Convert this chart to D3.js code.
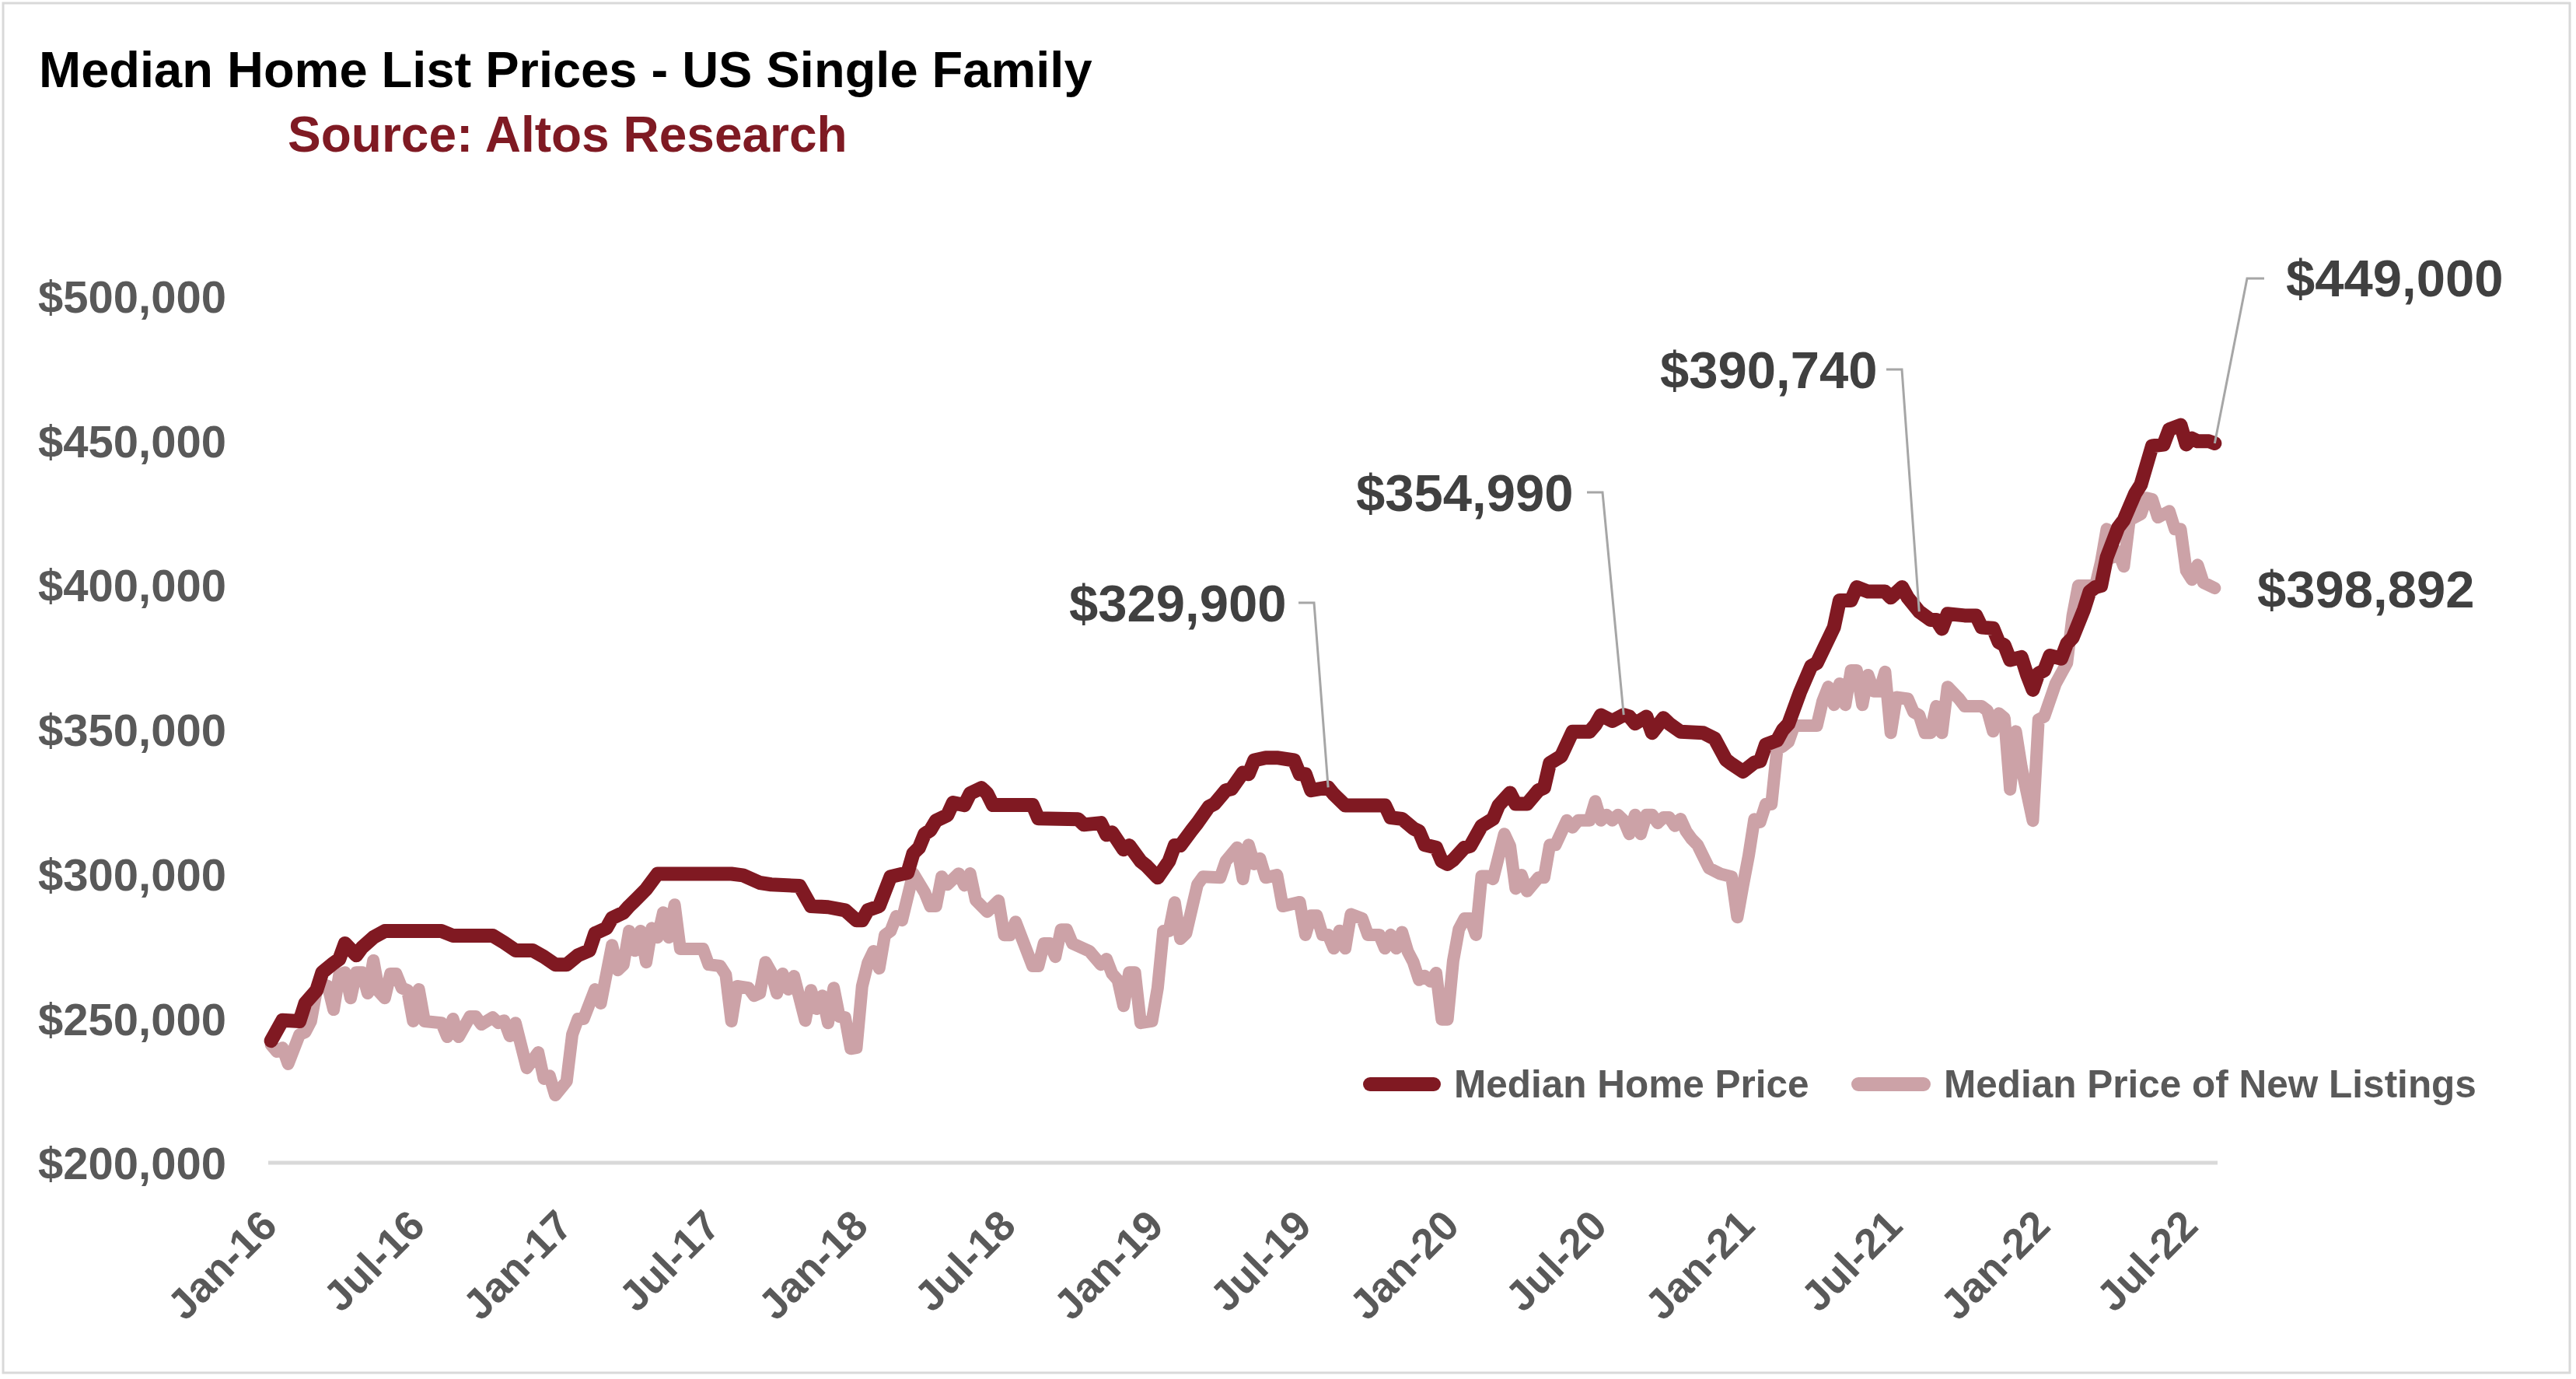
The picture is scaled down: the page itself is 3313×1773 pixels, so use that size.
<!DOCTYPE html>
<html>
<head>
<meta charset="utf-8">
<script src="https://cdn.jsdelivr.net/npm/d3@7"></script>
<style>
  html, body { margin: 0; padding: 0; background: #ffffff; }
  svg { display: block; }
  text { font-family: "Liberation Sans", Arial, Helvetica, sans-serif; font-weight: bold; }
</style>
</head>
<body>
<svg id="chart" width="3313" height="1773"></svg>
<script>
// ---------------- DATA ----------------
const titleText = "Median Home List Prices - US Single Family";
const sourceText = "Source: Altos Research";
const seriesNames = ["Median Home Price", "Median Price of New Listings"];
const firstWeek = "2016-01-15";          // week 0 of the weekly series
const weekCount = 343;                    // weeks 0..342
const tickEveryWeeks = 26;                // label every 26 weeks
const yTicks = [200, 250, 300, 350, 400, 450, 500]; // $ thousands

// Median Home Price (weeks since first week, $ thousands)
const homeWeeks = [0,2,5,6,8,9,11,12,13,15,16,18,20,30,32,39,41,43,46,48,50,52,54,56,57,59,60,62,63,64,66,68,81,83,86,88,93,95,98,101,103,104,105,107,109,112,113,114,115,116,117,119,120,122,123,125,126,127,134,135,142,143,146,147,148,150,151,153,154,156,158,159,160,162,163,165,166,168,169,171,172,173,175,177,180,181,182,183,186,187,189,196,197,199,201,202,203,205,206,207,208,210,211,213,215,216,218,219,221,223,224,225,227,229,232,233,234,236,238,239,240,242,243,245,246,248,252,254,256,257,259,261,262,263,265,266,267,269,271,272,275,276,278,279,281,284,285,287,288,290,292,293,294,295,298,300,301,303,304,305,306,308,309,310,311,312,313,315,316,317,319,320,321,322,323,325,326,328,329,331,333,334,336,337,338,339,341,342];
const homeValues = [242.2,249.3,249,255.2,259.7,265.9,269.1,270.5,275.9,271.8,274.5,278,280.2,280.2,278.6,278.6,276.2,273.5,273.5,271.3,268.6,268.6,271.8,273.5,279.4,281.2,284.7,286.6,288.8,290.7,294.7,300,300,299.5,296.9,296.3,295.8,288.8,288.5,287.4,283.9,283.9,287.4,288.8,299,300.4,307.1,309,313.8,315.1,318.4,320.3,324.6,323.8,327.8,329.7,327.8,323.8,323.8,319.2,318.9,317,317.6,313.5,314.3,308.4,309.8,304.4,302.8,298.7,304.4,309.8,309.8,315.1,317.6,323.2,324.2,328.9,329.4,335,334.5,339.3,340.2,340.2,339.3,334.5,334.5,328.9,329.9,327.5,323.7,323.7,319.5,319,315.7,314.7,310,309.1,304.4,303.4,304.8,309.1,309.6,316.6,319,323.7,328,324.2,324.2,328.9,329.8,338.3,340.7,349.2,349.2,351.5,354.9,352.9,354.99,354.4,352,354.4,348.8,353.9,352,349.2,348.8,346.8,339.5,338,335.4,338.5,339,344.7,346.2,349.8,351.9,362.7,371.9,373,385.3,394.6,394.6,399.2,397.7,397.7,395.6,399.2,395.6,390.74,387.9,387.9,384.8,390,389.4,389.4,385.3,385,380.2,379.1,374,375,368.8,363.7,369.4,370.4,375.5,374.5,379.7,381.7,391.5,397.7,399.2,399.7,409.5,419.8,422.4,431.6,434.7,448.1,448.6,453.8,455.3,448.6,450.7,449.7,449.7,449];

// Median Price of New Listings (weeks since first week, $ thousands)
const newWeeks = [0,1,2,3,5,6,7,8,9,10,11,12,13,14,15,16,17,18,19,20,21,22,23,24,25,26,27,30,31,32,33,35,36,37,39,40,41,42,43,45,47,48,49,50,52,53,54,55,57,58,60,61,62,63,64,65,66,67,68,69,70,71,72,76,77,79,80,81,82,84,85,86,87,88,89,90,91,92,94,95,96,97,98,99,100,101,102,103,104,105,106,107,108,109,110,111,113,115,116,117,118,119,121,122,123,124,126,128,129,130,131,134,135,136,137,138,139,140,141,144,146,147,148,149,150,151,152,153,155,156,157,158,159,160,161,163,164,167,168,170,171,172,173,174,175,177,178,181,182,183,184,185,186,187,188,189,190,192,193,195,196,197,198,199,200,201,202,203,204,205,206,207,208,209,210,211,212,213,214,215,217,218,219,220,221,223,224,225,226,228,229,230,232,233,234,235,236,237,238,239,240,241,242,243,244,245,246,247,248,249,250,251,253,255,257,258,259,260,261,262,263,264,265,266,267,268,272,273,274,275,276,277,278,279,280,281,282,283,284,285,286,288,289,290,291,292,293,294,295,297,298,301,302,303,304,305,306,307,308,310,311,312,314,316,317,318,321,322,323,324,325,326,327,329,330,331,332,334,335,336,337,338,339,340,342];
const newValues = [240.9,238.5,239.8,234.2,244.4,245.2,249,259.7,261.9,261.1,253,265.1,265.9,257,265.9,265.9,258.7,270,259.2,257,265.4,265.4,260.5,259.7,249,260,249,248.4,243.6,249.8,243.6,250.6,250.6,247.9,250.3,248.4,249.2,243.9,248.4,232.8,238.2,229.1,230.1,223.4,228.2,244.4,249.8,249.8,260,255.2,275.3,266.7,268.6,280.2,273.4,280.2,269.4,281.2,278,286.6,278,289.3,274,274,268.6,268.1,265.1,249,261.1,260.5,257.8,258.7,269.4,265.9,258.7,265.4,260,264.6,249.2,259.7,253.3,257.8,248.4,260.5,250.6,250.3,239.5,239.8,261.1,269.1,273.2,267.3,278.8,280.2,285.3,283.9,300.1,293.6,288.8,288.8,299,296.3,300.1,296,300.1,290.9,286.9,290.7,278.8,278.8,283.4,268.1,268.1,275.9,275.9,271.3,280.7,280.7,275.9,273.2,268.6,270.5,265.4,263.2,254.3,265.9,265.9,248.4,249,260.5,280.2,280.2,290.1,277.5,279.4,296.3,299,298.7,304.4,309.1,298.2,310,303.4,305.3,298.7,299.6,288.8,290.2,278.9,285.5,285.5,278.9,278.9,274.2,280.3,274.2,286,284.5,278.9,278.9,274.2,278.9,274.2,279.8,273.2,269.4,263.3,264.7,262.8,265.7,249.6,249.6,269.9,280.8,284.5,284.5,278.9,299.2,299.2,298.2,313.8,309.6,294.9,299.6,294,298.7,298.7,310,310,318.5,316.1,318.5,318.5,325.1,318.5,320.4,318.5,320.4,318.5,313.8,320.4,313.8,320.4,320.4,317.6,319.5,319.5,316.6,319,314.7,312,310,302,300,299,285,296,306.3,318.9,317.9,324.1,324.1,343.1,344.1,345.7,351.3,351.3,359.7,364.7,358.5,365.8,358.5,370.4,370.4,358.5,368.8,363.2,363.2,369.9,348.8,361.1,360.6,356,354.9,348.8,348.8,358,348.8,364.7,360.6,358,358,356.5,349.3,355.5,353.9,329.2,349.3,336.9,318.4,353.4,354.4,365.8,373,389.4,399.7,399.7,408,419.3,409.5,411.6,406.4,422.4,424.5,430.1,429.6,423.4,425.5,419.3,419.3,404.9,401.8,406.9,400.8,398.892];

// Annotated points: which series and which week
const annotSeries = ["home", "home", "home", "home", "new"];
const annotWeeks = [186, 238, 290, 342, 342];

// ---------------- LAYOUT / STYLE ----------------
const W = 3313, H = 1773;
const plot = { left: 345, right: 2852, top: 380.5, bottom: 1495 };
const colors = { home: "#801922", new: "#cca2a7", axis: "#d9d9d9", label: "#595959",
                 annot: "#404040", leader: "#a6a6a6", title: "#000000", source: "#7f1a23" };
// label placement for each annotation: text x, baseline y, leader anchor (x,y), elbow x
const annotLayout = [
  { tx: 1375, ty: 799, lx: 1670, ly: 775, ex: 1690 },
  { tx: 1744, ty: 657, lx: 2041, ly: 633, ex: 2061 },
  { tx: 2135, ty: 499, lx: 2426, ly: 475, ex: 2446 },
  { tx: 2940, ty: 381, lx: 2912, ly: 358, ex: 2890 },
  { tx: 2903, ty: 781, lx: null, ly: null, ex: null }
];

const svg = d3.select("#chart");
const parse = d3.timeParse("%Y-%m-%d");
const start = parse(firstWeek);
const weekDate = w => d3.timeHour.offset(start, w * 7 * 24);

// frame
svg.append("rect").attr("x", 0).attr("y", 0).attr("width", W).attr("height", H).attr("fill", "#ffffff");
svg.append("rect").attr("x", 4).attr("y", 4).attr("width", 3301).attr("height", 1761)
  .attr("fill", "#ffffff").attr("stroke", colors.axis).attr("stroke-width", 3);

// scales
const x = d3.scaleTime()
  .domain([d3.timeHour.offset(start, -84), d3.timeHour.offset(start, (weekCount - 0.5) * 168)])
  .range([plot.left, plot.right]);
const y = d3.scaleLinear().domain([200, 500]).range([plot.bottom, plot.top]);

// titles
svg.append("text").attr("x", 50).attr("y", 112).attr("font-size", 65).attr("fill", colors.title).text(titleText);
svg.append("text").attr("x", 370).attr("y", 195).attr("font-size", 64).attr("fill", colors.source).text(sourceText);

// y axis labels (no axis line, no gridlines)
const fmtDollar = d3.format("$,");
const yAxis = d3.axisLeft(y).tickValues(yTicks).tickSize(0).tickPadding(0)
  .tickFormat(v => fmtDollar(v * 1000));
const gy = svg.append("g").attr("transform", `translate(${291},0)`).call(yAxis);
gy.select(".domain").remove();
gy.selectAll("text").attr("font-size", 58).attr("fill", colors.label)
  .attr("font-family", "'Liberation Sans', Arial, sans-serif").attr("font-weight", "bold")
  .attr("dy", "0.36em").attr("x", 0);

// x axis line
const tickWeeks = d3.range(0, weekCount, tickEveryWeeks);
const xAxis = d3.axisBottom(x).tickValues(tickWeeks.map(weekDate)).tickSize(0).tickFormat(d3.timeFormat("%b-%y"));
const gx = svg.append("g").attr("transform", `translate(0,${plot.bottom})`).call(xAxis);
gx.select(".domain").attr("stroke", colors.axis).attr("stroke-width", 5)
  .attr("d", `M${plot.left},0H${plot.right}`);
gx.selectAll(".tick text")
  .attr("font-size", 54).attr("fill", colors.label)
  .attr("font-family", "'Liberation Sans', Arial, sans-serif").attr("font-weight", "bold")
  .attr("text-anchor", "end").attr("y", 0).attr("dy", 0)
  .attr("transform", "translate(10,84) rotate(-45)");

// series lines
const homeData = homeWeeks.map((w, i) => ({ d: weekDate(w), v: homeValues[i] }));
const newData = newWeeks.map((w, i) => ({ d: weekDate(w), v: newValues[i] }));
const line = d3.line().x(p => x(p.d)).y(p => y(p.v));
svg.append("path").datum(newData).attr("d", line).attr("fill", "none")
  .attr("stroke", colors.new).attr("stroke-width", 16).attr("stroke-linejoin", "round").attr("stroke-linecap", "round");
svg.append("path").datum(homeData).attr("d", line).attr("fill", "none")
  .attr("stroke", colors.home).attr("stroke-width", 18).attr("stroke-linejoin", "round").attr("stroke-linecap", "round");

// annotations
const seriesLookup = { home: [homeWeeks, homeValues], new: [newWeeks, newValues] };
const fmtAnnot = d3.format(",");
annotWeeks.forEach((w, i) => {
  const [ws, vs] = seriesLookup[annotSeries[i]];
  const v = vs[ws.indexOf(w)];
  const L = annotLayout[i];
  if (L.lx !== null) {
    svg.append("path")
      .attr("d", `M${L.lx},${L.ly}H${L.ex}L${x(weekDate(w))},${y(v)}`)
      .attr("fill", "none").attr("stroke", colors.leader).attr("stroke-width", 3);
  }
  svg.append("text").attr("x", L.tx).attr("y", L.ty).attr("font-size", 67)
    .attr("fill", colors.annot)
    .text("$" + fmtAnnot(Math.round(v * 1000)));
});

// legend
const legend = [
  { name: seriesNames[0], color: colors.home, x1: 1762, x2: 1844, tx: 1870 },
  { name: seriesNames[1], color: colors.new, x1: 2390, x2: 2474, tx: 2500 }
];
const legY = 1394;
legend.forEach(L => {
  svg.append("line").attr("x1", L.x1).attr("x2", L.x2).attr("y1", legY).attr("y2", legY)
    .attr("stroke", L.color).attr("stroke-width", 18).attr("stroke-linecap", "round");
  svg.append("text").attr("x", L.tx).attr("y", legY + 17).attr("font-size", 49.5)
    .attr("fill", colors.label).text(L.name);
});
</script>
</body>
</html>
